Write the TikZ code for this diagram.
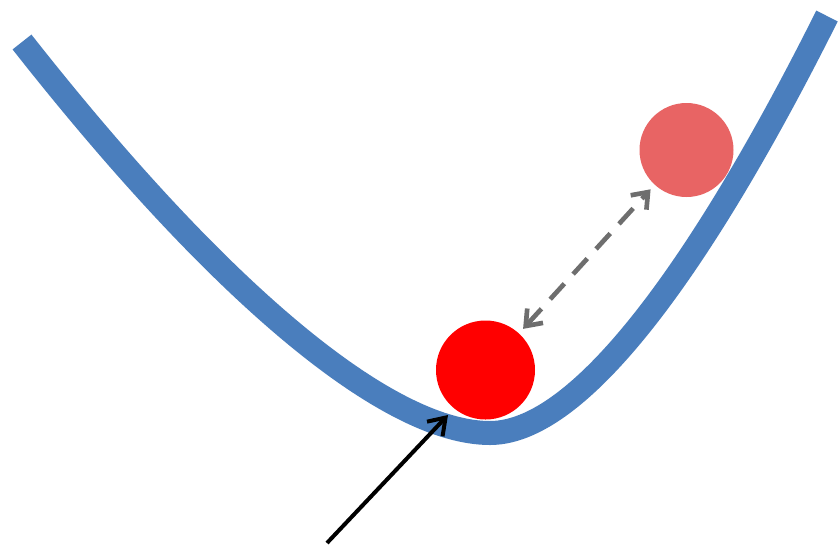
\documentclass[tikz,border=0pt]{standalone}
\usetikzlibrary{arrows.meta}
\definecolor{bandblue}{RGB}{74,126,189}
\definecolor{ballred}{RGB}{255,0,0}
\definecolor{ballpink}{RGB}{232,100,100}
\definecolor{arrowgray}{RGB}{110,110,110}
\tikzset{
  band/.style={draw=bandblue, line width=0.72cm, line cap=butt, line join=round},
  ball/.style={circle, inner sep=0pt, draw=none},
  movearrow/.style={draw=arrowgray, line width=0.14cm, dash pattern=on 0.63cm off 0.39cm,
    {Straight Barb[length=0.42cm, width=0.64cm]}-{Straight Barb[length=0.42cm, width=0.64cm]}},
  pointarrow/.style={draw=black, line width=0.12cm, -{Straight Barb[length=0.47cm, width=0.64cm]}}
}
\begin{document}
\begin{tikzpicture}[x=0.03cm, y=-0.03cm]
\useasboundingbox (0,0) rectangle (838,547);
\fill[white] (0,0) rectangle (838,547);
\draw[band] (22,42) .. controls (225,300) and (390,433) .. (490,433)
  .. controls (590,433) and (720,230) .. (827,16);
\node[ball, fill=ballred, minimum size=2.97cm] (red) at (485.5,370) {};
\node[ball, fill=ballpink, minimum size=2.82cm] (pink) at (686.5,150) {};
\draw[movearrow, shorten <=0.18cm, shorten >=0.18cm] (red) -- (pink);
\coordinate (tail) at (327,543);
\coordinate (tip) at (448,415);
\draw[pointarrow] (tail) -- (tip);
\end{tikzpicture}
\end{document}
